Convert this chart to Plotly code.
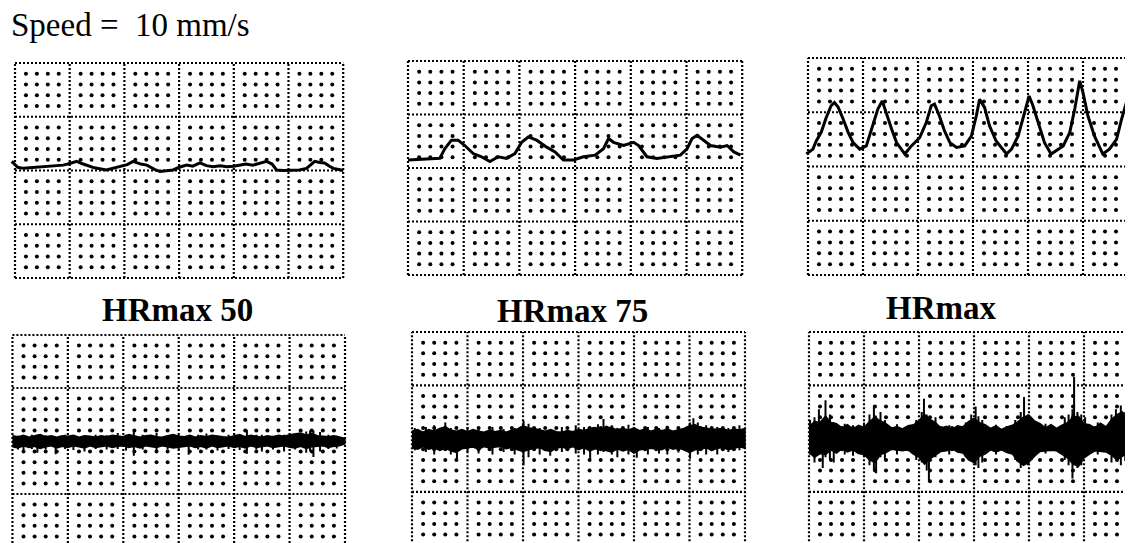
import plotly.graph_objects as go

# page body has an 8px default margin; the figure is sized so it ends at the window edge
OFF = 8
W, H = 1133 - OFF, 543 - OFF

# ---------------- data (in chart-paper divisions) ----------------
speed_label = "Speed =  10 mm/s"
panel_titles = ["HRmax 50", "HRmax 75", "HRmax"]

# top row: slow traces (x: major divisions, y: major divisions from bottom)
tl_x = [-0.06, 0.05, 0.15, 0.3, 0.45, 0.64, 0.75, 0.88, 1.0, 1.13, 1.22, 1.31, 1.45, 1.67, 1.8, 1.92, 2.05, 2.16,
        2.3, 2.41, 2.55, 2.65, 2.78, 2.89, 3.0, 3.14, 3.25, 3.38, 3.5, 3.62, 3.75, 3.87, 4.0, 4.11, 4.22,
        4.35, 4.47, 4.6, 4.7, 4.78, 4.9, 5.02, 5.2, 5.33, 5.4, 5.48, 5.57, 5.66, 5.75, 5.82, 5.92, 6.0]
tl_y = [2.17, 2.06, 2.04, 2.05, 2.07, 2.07, 2.09, 2.10, 2.13, 2.17, 2.13, 2.10, 2.05, 2.01, 2.04, 2.07, 2.11, 2.17,
        2.12, 2.10, 2.02, 1.98, 2.00, 2.01, 2.06, 2.10, 2.08, 2.14, 2.09, 2.07, 2.09, 2.07, 2.08, 2.10, 2.12,
        2.10, 2.13, 2.17, 2.12, 2.01, 2.00, 2.00, 2.01, 2.04, 2.10, 2.17, 2.15, 2.14, 2.08, 2.04, 2.02, 2.00]

tm_x = [0.0, 0.27, 0.57, 0.66, 0.78, 0.90, 1.02, 1.17, 1.32, 1.47, 1.62, 1.77, 1.92, 2.04, 2.16, 2.31, 2.49,
        2.64, 2.79, 2.97, 3.15, 3.36, 3.51, 3.60, 3.69, 3.87, 4.05, 4.14, 4.29, 4.47, 4.71, 4.89, 5.01,
        5.10, 5.19, 5.31, 5.43, 5.61, 5.73, 5.85, 5.97]
tm_y = [2.15, 2.17, 2.18, 2.36, 2.52, 2.52, 2.42, 2.27, 2.21, 2.12, 2.21, 2.18, 2.27, 2.48, 2.58, 2.52, 2.39,
        2.30, 2.15, 2.15, 2.21, 2.24, 2.36, 2.55, 2.48, 2.42, 2.48, 2.42, 2.21, 2.18, 2.21, 2.24, 2.36,
        2.55, 2.61, 2.52, 2.42, 2.39, 2.42, 2.30, 2.24]

tr_x = [-0.03, 0.09, 0.15, 0.24, 0.33, 0.42, 0.48, 0.55, 0.64, 0.73, 0.82, 0.94, 1.06, 1.18, 1.27, 1.35, 1.42,
        1.52, 1.61, 1.76, 1.88, 2.03, 2.15, 2.24, 2.30, 2.39, 2.48, 2.58, 2.70, 2.85, 2.97, 3.06, 3.12,
        3.21, 3.30, 3.42, 3.61, 3.70, 3.82, 3.94, 4.02, 4.09, 4.18, 4.30, 4.42, 4.64, 4.76, 4.85, 4.94,
        5.00, 5.09, 5.21, 5.36, 5.48, 5.61, 5.70, 5.79, 5.91]
tr_y = [2.23, 2.32, 2.47, 2.63, 2.90, 3.12, 3.18, 3.09, 2.87, 2.63, 2.44, 2.32, 2.38, 2.75, 3.06, 3.21, 2.99,
        2.69, 2.44, 2.23, 2.38, 2.53, 2.81, 3.12, 3.15, 2.93, 2.66, 2.44, 2.35, 2.38, 2.56, 2.93, 3.24,
        3.09, 2.75, 2.47, 2.23, 2.32, 2.56, 2.99, 3.30, 3.12, 2.81, 2.44, 2.23, 2.38, 2.63, 3.06, 3.58,
        3.36, 2.93, 2.56, 2.23, 2.32, 2.50, 2.87, 3.18, 2.99]

# bottom row: EMG bands, envelope offsets read at every 0.1 division
env_x = [round(0.1 * i, 1) for i in range(61)]
emg_center = 2.0

bl_upper = [0.10, 0.08, 0.11, 0.07, 0.10, 0.12, 0.08, 0.10, 0.07, 0.10,
            0.09, 0.11, 0.07, 0.10, 0.09, 0.07, 0.10, 0.08, 0.11, 0.09,
            0.08, 0.12, 0.10, 0.07, 0.10, 0.11, 0.08, 0.07, 0.10, 0.12,
            0.09, 0.08, 0.11, 0.07, 0.10, 0.08, 0.11, 0.09, 0.08, 0.07,
            0.10, 0.12, 0.08, 0.11, 0.09, 0.07, 0.10, 0.08, 0.11, 0.09,
            0.12, 0.13, 0.15, 0.11, 0.14, 0.10, 0.09, 0.08, 0.10, 0.08, 0.05]
bl_lower = [0.11, 0.13, 0.09, 0.12, 0.10, 0.14, 0.11, 0.09, 0.13, 0.10,
            0.12, 0.09, 0.11, 0.13, 0.09, 0.12, 0.10, 0.09, 0.12, 0.10,
            0.09, 0.12, 0.10, 0.13, 0.09, 0.11, 0.12, 0.09, 0.11, 0.13,
            0.11, 0.10, 0.09, 0.12, 0.10, 0.13, 0.09, 0.12, 0.10, 0.09,
            0.12, 0.10, 0.13, 0.09, 0.12, 0.10, 0.09, 0.12, 0.10, 0.09,
            0.12, 0.13, 0.10, 0.14, 0.11, 0.10, 0.09, 0.12, 0.10, 0.09, 0.05]
bl_spike_x = [0.1, 0.2, 0.35, 0.45, 0.6, 0.78, 0.95, 1.1, 1.3, 1.5, 1.7, 1.9, 2.05, 2.19, 2.35, 2.6, 2.8, 3.0,
              3.18, 3.35, 3.5, 3.7, 3.9, 4.1, 4.23, 4.4, 4.5, 4.7, 4.9, 5.1, 5.3, 5.37, 5.43, 5.55, 5.7, 5.85]
bl_spike_top = [0.10, 0.06, 0.12, 0.05, 0.11, 0.06, 0.12, 0.10, 0.05, 0.12, 0.11, 0.15, 0.12, 0.22, 0.12, 0.15,
                0.10, 0.12, 0.08, 0.12, 0.14, 0.10, 0.12, 0.11, 0.21, 0.12, 0.12, 0.10, 0.12, 0.13, 0.18, 0.20,
                0.20, 0.17, 0.12, 0.10]
bl_spike_bot = [-0.16, -0.20, -0.15, -0.22, -0.16, -0.25, -0.15, -0.17, -0.20, -0.15, -0.16, -0.15, -0.18,
                -0.28, -0.16, -0.18, -0.16, -0.15, -0.26, -0.16, -0.16, -0.18, -0.15, -0.17, -0.24, -0.16,
                -0.20, -0.16, -0.20, -0.16, -0.22, -0.20, -0.30, -0.20, -0.15, -0.14]

bm_upper = [0.14, 0.17, 0.12, 0.17, 0.14, 0.19, 0.22, 0.16, 0.14, 0.17,
            0.13, 0.17, 0.14, 0.12, 0.16, 0.13, 0.15, 0.12, 0.16, 0.18,
            0.24, 0.20, 0.19, 0.16, 0.14, 0.17, 0.13, 0.12, 0.15, 0.13,
            0.17, 0.15, 0.19, 0.21, 0.17, 0.23, 0.19, 0.17, 0.19, 0.16,
            0.20, 0.15, 0.18, 0.14, 0.17, 0.15, 0.18, 0.14, 0.17, 0.19,
            0.24, 0.26, 0.21, 0.20, 0.17, 0.18, 0.19, 0.15, 0.18, 0.16, 0.19]
bm_lower = [0.17, 0.20, 0.15, 0.20, 0.17, 0.22, 0.18, 0.23, 0.26, 0.19,
            0.18, 0.16, 0.20, 0.15, 0.18, 0.16, 0.15, 0.19, 0.16, 0.21,
            0.24, 0.21, 0.18, 0.17, 0.22, 0.24, 0.18, 0.16, 0.19, 0.15,
            0.21, 0.17, 0.23, 0.19, 0.20, 0.22, 0.25, 0.19, 0.23, 0.20,
            0.27, 0.21, 0.20, 0.18, 0.19, 0.21, 0.16, 0.20, 0.17, 0.21,
            0.26, 0.21, 0.20, 0.17, 0.22, 0.18, 0.17, 0.21, 0.18, 0.16, 0.18]
bm_spike_x = [0.05, 0.25, 0.4, 0.6, 0.7, 0.81, 1.0, 1.2, 1.45, 1.65, 1.85, 2.01, 2.1, 2.3, 2.49, 2.7, 2.95, 3.1,
              3.21, 3.35, 3.45, 3.6, 3.7, 3.9, 4.05, 4.25, 4.45, 4.6, 4.8, 5.01, 5.07, 5.15, 5.3, 5.5, 5.7, 5.9]
bm_spike_top = [0.20, 0.22, 0.25, 0.30, 0.20, 0.12, 0.22, 0.20, 0.22, 0.18, 0.20, 0.33, 0.28, 0.20, 0.15, 0.22,
                0.25, 0.22, 0.20, 0.27, 0.37, 0.25, 0.20, 0.26, 0.15, 0.22, 0.20, 0.24, 0.20, 0.30, 0.38, 0.30,
                0.25, 0.22, 0.20, 0.25]
bm_spike_bot = [-0.22, -0.25, -0.30, -0.15, -0.30, -0.38, -0.25, -0.28, -0.30, -0.25, -0.30, -0.50, -0.35,
                -0.30, -0.32, -0.25, -0.28, -0.30, -0.38, -0.30, -0.25, -0.30, -0.35, -0.30, -0.36, -0.30,
                -0.28, -0.30, -0.26, -0.38, -0.22, -0.30, -0.30, -0.30, -0.25, -0.22]

br_upper = [0.22, 0.32, 0.30, 0.42, 0.30, 0.28, 0.20, 0.26, 0.18, 0.25,
            0.21, 0.32, 0.40, 0.33, 0.28, 0.20, 0.22, 0.18, 0.24, 0.26,
            0.34, 0.45, 0.36, 0.30, 0.20, 0.23, 0.17, 0.24, 0.22, 0.32,
            0.38, 0.30, 0.26, 0.19, 0.24, 0.17, 0.22, 0.25, 0.32, 0.40,
            0.44, 0.33, 0.28, 0.20, 0.26, 0.19, 0.25, 0.30, 0.40, 0.42,
            0.28, 0.26, 0.20, 0.29, 0.22, 0.36, 0.45, 0.50, 0.36, 0.32, 0.26]
br_lower = [0.26, 0.35, 0.28, 0.30, 0.21, 0.27, 0.19, 0.25, 0.21, 0.28,
            0.30, 0.40, 0.45, 0.30, 0.26, 0.20, 0.22, 0.23, 0.21, 0.29,
            0.35, 0.48, 0.38, 0.31, 0.24, 0.23, 0.19, 0.25, 0.27, 0.40,
            0.45, 0.33, 0.29, 0.21, 0.25, 0.21, 0.26, 0.29, 0.43, 0.50,
            0.44, 0.33, 0.24, 0.23, 0.22, 0.23, 0.29, 0.36, 0.48, 0.52,
            0.36, 0.29, 0.23, 0.24, 0.25, 0.31, 0.40, 0.33, 0.29, 0.24, 0.25]
br_spike_x = [0.02, 0.1, 0.18, 0.25, 0.3, 0.38, 0.45, 0.65, 0.8, 1.0, 1.1, 1.18, 1.22, 1.3, 1.38, 1.6,
              1.95, 2.05, 2.09, 2.14, 2.18, 2.3, 2.55, 2.85, 2.95, 3.03, 3.08, 3.15, 3.4, 3.75, 3.85, 3.91,
              3.98, 4.05, 4.3, 4.65, 4.72, 4.79, 4.82, 4.88, 4.95, 5.02, 5.25, 5.5, 5.58, 5.67, 5.75, 5.85]
br_spike_top = [0.35, 0.40, 0.55, 0.35, 0.72, 0.45, 0.30, 0.28, 0.25, 0.30, 0.45, 0.62, 0.40, 0.50, 0.35, 0.27,
                0.35, 0.50, 0.75, 0.45, 0.30, 0.40, 0.25, 0.30, 0.45, 0.60, 0.42, 0.35, 0.26, 0.35, 0.50, 0.78,
                0.45, 0.35, 0.28, 0.40, 0.45, 0.55, 1.16, 0.50, 0.45, 0.40, 0.30, 0.45, 0.55, 0.62, 0.50, 0.55]
br_spike_bot = [-0.30, -0.45, -0.30, -0.55, -0.35, -0.40, -0.45, -0.30, -0.32, -0.35, -0.50, -0.60, -0.65,
                -0.35, -0.40, -0.30, -0.40, -0.45, -0.35, -0.60, -0.80, -0.35, -0.30, -0.35, -0.40, -0.50,
                -0.55, -0.45, -0.30, -0.40, -0.55, -0.45, -0.50, -0.40, -0.28, -0.40, -0.50, -0.75, -0.45,
                -0.55, -0.50, -0.35, -0.30, -0.45, -0.40, -0.50, -0.42, -0.40]

# ---------------- layout geometry (window pixels) ----------------
# left px of x=0, column width, top px of y=4, row height, x range, y range
panels = [
    dict(left=15, colw=54.7, top=63, rowh=53.75, xr=[-0.12, 6.08], yr=[-0.08, 4.08]),
    dict(left=408, colw=55.7, top=61, rowh=53.5, xr=[-0.08, 6.08], yr=[-0.08, 4.08]),
    dict(left=808, colw=55.0, top=58, rowh=54.25, xr=[-0.08, (1133 - 808) / 55.0], yr=[-0.08, 4.08]),
    dict(left=12, colw=55.5, top=335, rowh=53.0, xr=[-0.08, 6.08], yr=[(335 + 4 * 53.0 - 543) / 53.0, 4.08]),
    dict(left=412, colw=55.5, top=332, rowh=53.3, xr=[-0.08, 6.08], yr=[(332 + 4 * 53.3 - 543) / 53.3, 4.08]),
    dict(left=809, colw=55.0, top=332, rowh=53.3, xr=[-0.08, (1133 - 809) / 55.0],
         yr=[(332 + 4 * 53.3 - 543) / 53.3, 4.08]),
]


def px_x(v):
    return (v - OFF) / W


def px_y(v):
    return 1 - (v - OFF) / H


fig = go.Figure()
layout_axes = {}

for i, p in enumerate(panels):
    k = "" if i == 0 else str(i + 1)
    x0 = p["left"] + p["xr"][0] * p["colw"]
    x1 = p["left"] + p["xr"][1] * p["colw"]
    ytop = p["top"] + (4 - p["yr"][1]) * p["rowh"]
    ybot = p["top"] + (4 - p["yr"][0]) * p["rowh"]
    xd = [max(0.0, px_x(x0)), min(1.0, px_x(x1))]
    yd = [max(0.0, px_y(ybot)), min(1.0, px_y(ytop))]
    ax = dict(visible=False, showgrid=False, zeroline=False, fixedrange=True)
    layout_axes["xaxis" + k] = dict(ax, domain=xd, range=p["xr"], anchor="y" + k)
    layout_axes["yaxis" + k] = dict(ax, domain=yd, range=p["yr"], anchor="x" + k)
    xa, ya = "x" + k, "y" + k

    # minor grid dots
    dx, dy = [], []
    for a in range(31):
        for b in range(21):
            if a % 5 == 0 or b % 5 == 0:
                continue
            dx.append(a / 5)
            dy.append(b / 5)
    fig.add_trace(go.Scatter(x=dx, y=dy, mode="markers", xaxis=xa, yaxis=ya,
                             marker=dict(size=4, color="black"), hoverinfo="skip", showlegend=False))
    # major dotted lines
    lx, ly = [], []
    for a in range(7):
        lx += [a, a, None]
        ly += [0, 4, None]
    for b in range(5):
        lx += [0, 6, None]
        ly += [b, b, None]
    fig.add_trace(go.Scatter(x=lx, y=ly, mode="lines", xaxis=xa, yaxis=ya,
                             line=dict(color="black", width=2.2, dash="2px,2px"),
                             hoverinfo="skip", showlegend=False))

# top traces
for i, (tx, ty) in enumerate([(tl_x, tl_y), (tm_x, tm_y), (tr_x, tr_y)]):
    k = "" if i == 0 else str(i + 1)
    fig.add_trace(go.Scatter(x=tx, y=ty, mode="lines", xaxis="x" + k, yaxis="y" + k,
                             line=dict(color="black", width=3), hoverinfo="skip", showlegend=False))

# bottom EMG bands
emg = [(bl_upper, bl_lower, bl_spike_x, bl_spike_top, bl_spike_bot),
       (bm_upper, bm_lower, bm_spike_x, bm_spike_top, bm_spike_bot),
       (br_upper, br_lower, br_spike_x, br_spike_top, br_spike_bot)]
for j, (up, lo, sx, st, sb) in enumerate(emg):
    k = str(j + 4)
    px = list(env_x) + list(reversed(env_x))
    py = [emg_center + u for u in up] + [emg_center - l for l in reversed(lo)]
    fig.add_trace(go.Scatter(x=px, y=py, mode="lines", fill="toself", fillcolor="black",
                             xaxis="x" + k, yaxis="y" + k, line=dict(color="black", width=1.5),
                             hoverinfo="skip", showlegend=False))
    vx, vy = [], []
    for x, t, b in zip(sx, st, sb):
        vx += [x, x, None]
        vy += [emg_center + t, emg_center + b, None]
    fig.add_trace(go.Scatter(x=vx, y=vy, mode="lines", xaxis="x" + k, yaxis="y" + k,
                             line=dict(color="black", width=2), hoverinfo="skip", showlegend=False))

serif = "Liberation Serif, Times New Roman, serif"
annotations = [
    dict(text=speed_label, x=px_x(9), y=px_y(25), xref="paper", yref="paper", xanchor="left",
         yanchor="middle", showarrow=False, font=dict(family=serif, size=33, color="black")),
]
for t, cx, cy in zip(panel_titles, [177, 572, 941], [310, 311, 308]):
    annotations.append(dict(text="<b>" + t + "</b>", x=px_x(cx), y=px_y(cy), xref="paper", yref="paper",
                            xanchor="center", yanchor="middle", showarrow=False,
                            font=dict(family=serif, size=33, color="black")))

fig.update_layout(width=W, height=H, margin=dict(l=0, r=0, t=0, b=0),
                  paper_bgcolor="white", plot_bgcolor="white",
                  annotations=annotations, **layout_axes)

fig.write_html("out.html", config={"displayModeBar": False})
